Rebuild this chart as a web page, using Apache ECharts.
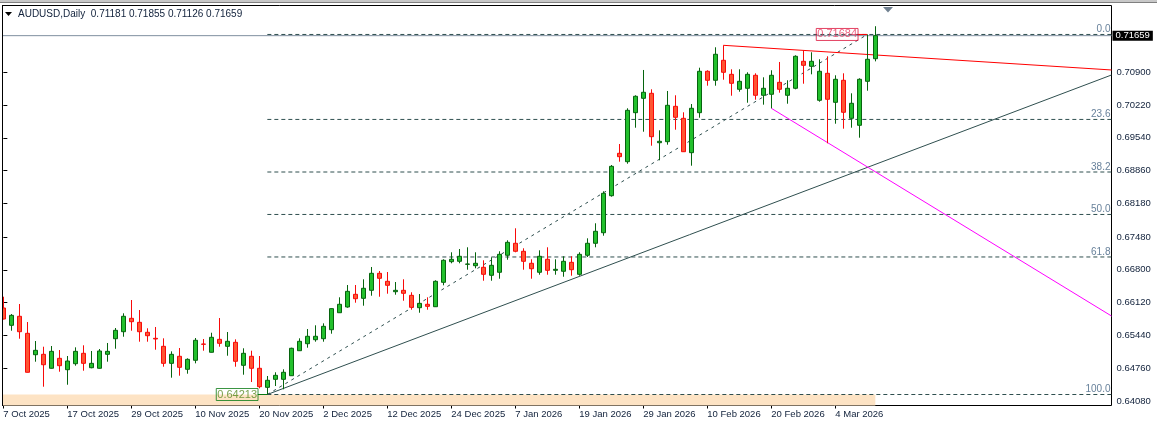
<!DOCTYPE html>
<html><head><meta charset="utf-8">
<style>html,body{margin:0;padding:0;background:#fff}#c{width:1157px;height:426px}</style>
<script src="https://cdn.jsdelivr.net/npm/echarts@6/dist/echarts.min.js"></script>
</head><body><div id="c"></div>
<script>
const title_text = 'AUDUSD,Daily  0.71181 0.71855 0.71126 0.71659';
const opens = [.66008,.65649,.65836,.65483,.65039,.65047,.64757,.64964,.64728,.64852,.65068,.64769,.64757,.65047,.65371,.65516,.65794,.65711,.65504,.65379,.65213,.64860,.65006,.64736,.64923,.65261,.65089,.65358,.65213,.65296,.64819,.65006,.64757,.64362,.64528,.64528,.64603,.65122,.65267,.65350,.65371,.65558,.65910,.66029,.66292,.66209,.66375,.66728,.66562,.66346,.66375,.66271,.66014,.66085,.66035,.66541,.66969,.66977,.66915,.66886,.66853,.66687,.66749,.67102,.67351,.67185,.66936,.66749,.67019,.66790,.66770,.66956,.66707,.67102,.67351,.67570,.68338,.69218,.69044,.70061,.70359,.70463,.69438,.69459,.70193,.69944,.69231,.70061,.70920,.70733,.71148,.70857,.70546,.70567,.70837,.70422,.70443,.70691,.70422,.70567,.71127,.71023,.70318,.70878,.70276,.70733,.69944,.69799,.70712,.71181];
const closes = [.65780,.65856,.65516,.64674,.65130,.64831,.65109,.64811,.64908,.65109,.64860,.64860,.65116,.65109,.65545,.65836,.65724,.65516,.65433,.65365,.64860,.65047,.64777,.64943,.65338,.65255,.65400,.65275,.65317,.64902,.65068,.64757,.64375,.64508,.64611,.64674,.65172,.65317,.65421,.65421,.65628,.65995,.66085,.66354,.66201,.66417,.66728,.66624,.66479,.66375,.66313,.66022,.66105,.66043,.66562,.66998,.67019,.67081,.66921,.66936,.66707,.66894,.67122,.67371,.67185,.66977,.66823,.67081,.66790,.66811,.66977,.66803,.67122,.67351,.67600,.68388,.68948,.69148,.70110,.70401,.70484,.69563,.69467,.70214,.69965,.69251,.70152,.70920,.70733,.71273,.70899,.70671,.70712,.70857,.70422,.70567,.70837,.70546,.70567,.71231,.71044,.71127,.70920,.70339,.70754,.70069,.70256,.70754,.71169,.71659];
const lows = [.65770,.65537,.65371,.64670,.64894,.64375,.64750,.64686,.64416,.64811,.64707,.64757,.64750,.64894,.65163,.65412,.65537,.65309,.65309,.65143,.64790,.64562,.64603,.64645,.64860,.65122,.65085,.65205,.65018,.64790,.64624,.64472,.64342,.64213,.64389,.64321,.64600,.65116,.65184,.65309,.65309,.65475,.65905,.66014,.66118,.66056,.66263,.66242,.66305,.66284,.66159,.65973,.65910,.65973,.66030,.66479,.66936,.66936,.66803,.66832,.66574,.66574,.66616,.67010,.67164,.66803,.66616,.66699,.66699,.66699,.66657,.66678,.66678,.67066,.67268,.67508,.68318,.69044,.69002,.69749,.69666,.69376,.69073,.69397,.69708,.69245,.68961,.69957,.70621,.70621,.70745,.70413,.70496,.70268,.70330,.70227,.70152,.70476,.70247,.70546,.70662,.70857,.70289,.69426,.69832,.69729,.69749,.69542,.70517,.71126];
const highs = [.66242,.65883,.66091,.65717,.65323,.65205,.65219,.65136,.65012,.65192,.65234,.65116,.65157,.65282,.65593,.65898,.66174,.65966,.65587,.65614,.65379,.65109,.65178,.64964,.65385,.65365,.65495,.65800,.65510,.65358,.65172,.65122,.65012,.64597,.64674,.64736,.65184,.65379,.65572,.65649,.65690,.66002,.66230,.66485,.66485,.66604,.66859,.66776,.66755,.66547,.66604,.66334,.66298,.66230,.66583,.67019,.67164,.67232,.67268,.67164,.66998,.67060,.67185,.67413,.67662,.67247,.67019,.67205,.67268,.67019,.67081,.67081,.67164,.67454,.67766,.68430,.68975,.69411,.70152,.70422,.70947,.70546,.69695,.70511,.70422,.70069,.70241,.70994,.70941,.71418,.71459,.70961,.70961,.70899,.70878,.70795,.70941,.71113,.70733,.71252,.71356,.71314,.71169,.71231,.70837,.70878,.70463,.70775,.71684,.71855];
const date_ticks = [0,8,16,24,32,40,48,56,64,72,80,88,96,104];
const date_labels = ['7 Oct 2025','17 Oct 2025','29 Oct 2025','10 Nov 2025','20 Nov 2025','2 Dec 2025','12 Dec 2025','24 Dec 2025','7 Jan 2026','19 Jan 2026','29 Jan 2026','10 Feb 2026','20 Feb 2026','4 Mar 2026'];
const price_ticks = [.6408,.6476,.6544,.6612,.6680,.6748,.6818,.6886,.6954,.7022,.7090];
const fib_prices = [.71684,.69921,.68830,.67949,.67067,.64213];
const fib_names = ['0.0','23.6','38.2','50.0','61.8','100.0'];
const swing_low = [33,.64213];
const swing_high = [108,.71684];
const red_line = [[90,.71459],[138.52,.70947]];
const magenta_line = [[96,.70152],[138.52,.65842]];
const trend_line = [[33,.64213],[138.52,.70843]];
const last_price = .71659;

const xMin=-0.104,xMax=138.52,yMin=.63985,yMax=.72285;
const axisFont='"Liberation Sans",Arial,sans-serif';
const DSG='#2f4f4f';
const line=(name,data,color,type,z)=>({name,type:'line',data,symbol:'none',silent:true,animation:false,z:z||3,lineStyle:{color,width:1,type:type||'solid'}});
const series=[];
series.push({name:'candles',type:'candlestick',z:5,animation:false,silent:true,barWidth:5,
  data:opens.map((o,i)=>[i,o,closes[i],lows[i],highs[i]]),
  itemStyle:{color:'#22c02c',color0:'#ff5533',borderColor:'#06640e',borderColor0:'#f80a0a',borderWidth:1},
  markArea:{silent:true,animation:false,itemStyle:{color:'#fde3c4'},data:[[{xAxis:xMin,yAxis:swing_low[1]},{xAxis:109,yAxis:yMin}]]},
});
fib_prices.forEach((p,i)=>series.push(line('fib '+fib_names[i],[[swing_low[0],p],[xMax,p]],DSG,[4,3])));
series.push(line('fib diagonal',[swing_low,swing_high],DSG,[3,4]));
series.push(line('trend',trend_line,DSG));
series.push(line('red',red_line,'#ff0000'));
series.push(line('magenta',magenta_line,'#ff00ff'));
series.push(line('low connector',[[swing_low[0]-1.2,swing_low[1]],swing_low],'#0a7a14'));
series.push(line('high connector',[[swing_high[0]-1.2,swing_high[1]],swing_high],'#ff0000'));
series.push(Object.assign(line('last',[[xMin,last_price],[xMax,last_price]],'#7f8f9f'),{z:2,
  markPoint:{silent:true,animation:false,symbol:'rect',symbolSize:0.01,
    data:[{coord:[xMax,last_price],label:{show:true,position:'right',distance:1,formatter:last_price.toFixed(5),color:'#fff',backgroundColor:'#000',fontFamily:axisFont,fontSize:9.5,padding:[1,3,1,3],lineHeight:8,height:8}}]}}));
series.push({name:'fib labels',type:'scatter',symbolSize:0.01,silent:true,animation:false,z:6,
  data:fib_prices.map((p,i)=>({value:[xMax,p],name:fib_names[i]})),
  label:{show:true,position:'left',distance:1,verticalAlign:'bottom',formatter:o=>o.name,color:'#3f5f80',fontFamily:axisFont,fontSize:10}});
const boxLabel=(color,txt,border)=>({show:true,position:'left',distance:9.3,formatter:txt,color,fontFamily:axisFont,fontSize:11,borderColor:border,borderWidth:1,height:11,lineHeight:11,padding:[1,1,0,1]});
series.push({name:'swing labels',type:'scatter',symbolSize:0.01,silent:true,animation:false,z:7,
  data:[
    {value:swing_low,label:boxLabel('#558a20',swing_low[1].toFixed(5),'#0a7a14')},
    {value:swing_high,label:boxLabel('#e83a60',swing_high[1].toFixed(5),'#dc143c')}
  ]});

const chart=echarts.init(document.getElementById('c'),null,{renderer:'canvas'});
chart.setOption({
  animation:false,backgroundColor:'#fff',
  title:{text:title_text,left:18,top:9,padding:0,textStyle:{fontFamily:axisFont,fontSize:10,fontWeight:'normal',color:'#10203a',lineHeight:11}},
  grid:{left:2.5,right:45.5,top:5.5,bottom:20.5,show:true,borderColor:'#000',borderWidth:1,backgroundColor:'#fff',containLabel:false},
  xAxis:{type:'value',min:xMin,max:xMax,splitLine:{show:false},axisLine:{show:false},
    axisTick:{show:true,length:3,inside:false,customValues:date_ticks,lineStyle:{color:'#000'}},
    axisLabel:{show:true,customValues:date_ticks,formatter:v=>date_labels[date_ticks.indexOf(Math.round(v))]||'',align:'left',margin:4,hideOverlap:false,showMinLabel:true,showMaxLabel:true,color:'#10203a',fontFamily:axisFont,fontSize:9.5}},
  yAxis:{type:'value',position:'right',min:yMin,max:yMax,scale:true,splitLine:{show:false},axisLine:{show:false},
    axisTick:{show:true,length:4,customValues:price_ticks,lineStyle:{color:'#000'}},
    axisLabel:{show:true,customValues:price_ticks,formatter:v=>v.toFixed(5),margin:5,color:'#10203a',fontFamily:axisFont,fontSize:9.5}},
  graphic:[
    {type:'rect',silent:true,z:100,shape:{x:0,y:3,width:2,height:403},style:{fill:'#fff'}},
    {type:'rect',silent:true,z:100,shape:{x:2,y:5,width:1,height:401},style:{fill:'#000'}},
    {type:'rect',silent:true,z:100,shape:{x:0,y:0,width:1157,height:2},style:{fill:'#c8c8c8'}},
    {type:'rect',silent:true,z:100,shape:{x:0,y:2,width:1157,height:1},style:{fill:'#808080'}},
    {type:'polygon',silent:true,z:100,shape:{points:[[5,12],[12,12],[8.5,16]]},style:{fill:'#000'}},
    {type:'polygon',silent:true,z:100,shape:{points:[[883,7],[893,7],[888,12.5]]},style:{fill:'#708090'}}
  ],
  series
});
</script></body></html>
